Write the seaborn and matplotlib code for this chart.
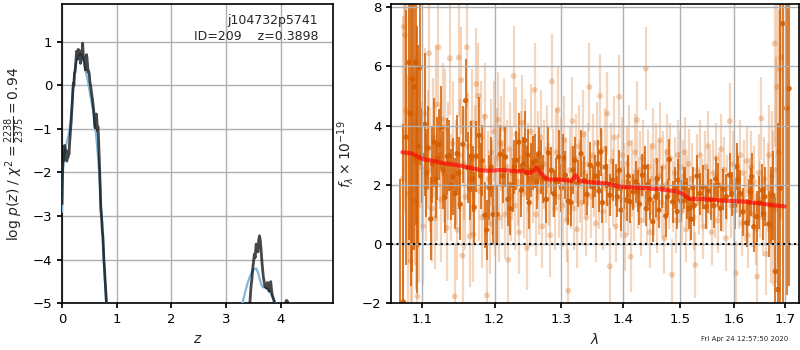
import matplotlib
matplotlib.use("Agg")
import matplotlib.pyplot as plt
from matplotlib.ticker import FixedLocator, FixedFormatter, NullLocator
import numpy as np
import pandas as pd
import seaborn as sns

# ---------------- redshift probability, log p(z) ----------------
pz_z_low = [0.000, 0.008, 0.018, 0.028, 0.038, 0.048, 0.058, 0.068, 0.078, 0.088,
            0.098, 0.108, 0.118, 0.128, 0.138, 0.148, 0.158, 0.168, 0.178, 0.188,
            0.198, 0.208, 0.218, 0.228, 0.238, 0.248, 0.258, 0.268, 0.278, 0.288,
            0.298, 0.308, 0.318, 0.328, 0.338, 0.348, 0.358, 0.368, 0.378, 0.388,
            0.398, 0.408, 0.418, 0.428, 0.438, 0.448, 0.458, 0.468, 0.478, 0.488,
            0.498, 0.508, 0.518, 0.528, 0.538, 0.548, 0.558, 0.568, 0.578, 0.588,
            0.598, 0.608, 0.618, 0.628, 0.638, 0.648, 0.658, 0.668, 0.678, 0.688,
            0.698, 0.708, 0.718, 0.728, 0.738, 0.748, 0.758, 0.768, 0.778, 0.788,
            0.798, 0.808, 0.818, 0.828]
pz_low = [-2.72, -2.10, -1.65, -1.40, -1.72, -1.38, -1.45, -1.62, -1.50, -1.74,
          -1.55, -1.66, -1.52, -1.58, -1.35, -1.18, -0.98, -0.85, -0.62, -0.40,
          -0.12, 0.05, 0.00, 0.28, 0.30, 0.45, 0.62, 0.78, 0.72, 0.60,
          0.82, 0.66, 0.80, 0.70, 0.50, 0.62, 0.78, 0.70, 0.96, 0.72,
          0.58, 0.62, 0.48, 0.35, 0.40, 0.70, 0.62, 0.45, 0.30, 0.32,
          0.27, 0.12, 0.02, -0.05, -0.15, -0.25, -0.32, -0.45, -0.55, -0.70,
          -0.92, -0.98, -0.70, -0.66, -0.80, -1.05, -0.95, -1.20, -1.55, -1.90,
          -2.30, -2.80, -2.95, -3.10, -3.35, -3.45, -3.75, -4.05, -4.20, -4.45,
          -4.65, -4.85, -5.10, -5.60]
pz_z_high = [3.420, 3.440, 3.460, 3.475, 3.490, 3.505, 3.520, 3.535, 3.553, 3.570,
             3.585, 3.600, 3.614, 3.628, 3.642, 3.656, 3.670, 3.685, 3.700, 3.715,
             3.730, 3.745, 3.760, 3.775, 3.790, 3.805, 3.820, 3.835, 3.850, 3.865,
             3.880, 3.900, 3.930]
pz_high = [-5.30, -4.95, -4.60, -4.45, -4.20, -4.05, -3.87, -3.95, -3.64, -3.70,
           -3.82, -3.55, -3.45, -3.55, -3.75, -4.00, -4.20, -4.40, -4.50, -4.62,
           -4.58, -4.65, -4.52, -4.62, -4.72, -4.60, -4.50, -4.70, -4.82, -4.88,
           -4.94, -5.05, -5.30]
pz_z_tail = [4.06, 4.09, 4.11, 4.13, 4.16]
pz_tail = [-5.20, -4.98, -4.93, -4.96, -5.20]

spl_z_low = [0.00, 0.01, 0.02, 0.04, 0.06, 0.08, 0.10, 0.12, 0.14, 0.16,
             0.18, 0.20, 0.22, 0.24, 0.26, 0.28, 0.30, 0.32, 0.34, 0.36,
             0.38, 0.40, 0.42, 0.44, 0.46, 0.48, 0.50, 0.52, 0.54, 0.56,
             0.58, 0.60, 0.62, 0.64, 0.66, 0.68, 0.70, 0.72, 0.74, 0.76,
             0.78, 0.80, 0.82]
spl_low = [-2.90, -2.30, -1.90, -1.60, -1.45, -1.35, -1.25, -1.15, -1.00, -0.75,
           -0.45, -0.15, 0.12, 0.35, 0.52, 0.62, 0.68, 0.70, 0.72, 0.70,
           0.62, 0.52, 0.40, 0.28, 0.18, 0.05, -0.10, -0.25, -0.38, -0.52,
           -0.68, -0.88, -1.10, -1.35, -1.65, -2.00, -2.40, -2.85, -3.30, -3.80,
           -4.30, -4.80, -5.30]
spl_z_high = [3.28, 3.32, 3.36, 3.40, 3.44, 3.48, 3.52, 3.555, 3.59, 3.62,
              3.65, 3.68, 3.72, 3.76, 3.80, 3.84, 3.88, 3.92]
spl_high = [-5.10, -4.90, -4.70, -4.52, -4.38, -4.27, -4.21, -4.20, -4.30, -4.45,
            -4.57, -4.63, -4.64, -4.66, -4.72, -4.82, -4.92, -5.05]

chi2_num, chi2_dof, chi2_red = 2238, 2375, 0.94
obj_root, obj_id, obj_z = "j104732p5741", 209, 0.3898
stamp = "Fri Apr 24 12:57:50 2020"

# ---------------- G141 spectrum, units of 1e-19 ----------------
dark_wave = [1.0718, 1.0757, 1.0794, 1.0829, 1.0852, 1.0874, 1.0895, 1.0917, 1.0930, 1.0952, 1.0974,
             1.1002, 1.1036, 1.1058, 1.1080, 1.1115, 1.1138, 1.1160, 1.1186, 1.1205, 1.1226, 1.1258, 1.1280,
             1.1306, 1.1338, 1.1365, 1.1390, 1.1413, 1.1450, 1.1473, 1.1495, 1.1517, 1.1553, 1.1589, 1.1620,
             1.1645, 1.1665, 1.1690, 1.1710, 1.1742, 1.1777, 1.1800, 1.1823, 1.1864, 1.1886, 1.1922, 1.1950, 1.1980,
             1.2036, 1.2085, 1.2120, 1.2158, 1.2196, 1.2229, 1.2264, 1.2290, 1.2319, 1.2353, 1.2394, 1.2420,
             1.2442, 1.2470, 1.2491, 1.2506, 1.2535, 1.2567, 1.2600, 1.2625, 1.2653, 1.2695, 1.2725, 1.2771,
             1.2800, 1.2848, 1.2885, 1.2926, 1.2960, 1.3003, 1.3035, 1.3066, 1.3110, 1.3154, 1.3185, 1.3212,
             1.3260, 1.3313, 1.3367, 1.3409, 1.3464, 1.3506,
             1.3545, 1.3585, 1.3605, 1.3630, 1.3660, 1.3710, 1.3740, 1.3780, 1.3830, 1.3880, 1.3905, 1.3940,
             1.3970, 1.4010, 1.4060, 1.4090, 1.4120, 1.4170, 1.4220, 1.4250, 1.4280, 1.4330, 1.4375, 1.4400,
             1.4420, 1.4460, 1.4510, 1.4560, 1.4590, 1.4620, 1.4680, 1.4740, 1.4770, 1.4800, 1.4860, 1.4910,
             1.4940, 1.4960, 1.5010, 1.5060, 1.5085, 1.5110, 1.5150, 1.5200, 1.5225, 1.5250, 1.5300, 1.5350,
             1.5410, 1.5460, 1.5510, 1.5560, 1.5610, 1.5650, 1.5690, 1.5740, 1.5790, 1.5850,
             1.5910, 1.5960, 1.6010, 1.6050, 1.6070, 1.6120, 1.6170, 1.6240, 1.6280, 1.6320,
             1.6340, 1.6380, 1.6440, 1.6490, 1.6550, 1.6570, 1.6600, 1.6680, 1.6720, 1.6760,
             1.6810, 1.6860, 1.6910, 1.6960, 1.7040, 1.7090]
dark_flux = [-3.0, -1.95, 3.61, 6.13, 4.4, 5.57, 5.31, 6.13, 2.85, 3.3, 5.96,
             3.0, 4.04, 2.4, 3.25, 0.85, 2.7, 3.44, 2.19, 2.9, 3.37, 3.93, 2.5,
             1.58, 2.96, 2.98, 2.0, 2.27, 1.71, 3.05, 2.4, 1.35, 3.37, 4.84, 2.58,
             1.9, 2.97, 2.2, 1.24, 2.97, 3.67, 2.3, 2.81, 0.98, 0.48, 1.91, 2.6, 1.0,
             1.01, 3.03, 2.3, 2.94, 1.51, 1.2, 1.99, 2.6, 2.83, 3.44, 1.82, 2.7,
             3.5, 2.4, 3.0, 1.40, 2.5, 2.74, 2.8, 2.1, 3.05, 2.6, 2.2, 1.51,
             3.08, 2.49, 1.7, 2.12, 2.94, 1.9, 2.9, 2.33, 1.45, 1.40, 2.5, 2.83,
             2.05, 3.05, 2.16, 1.68, 2.66, 1.93,
             2.3, 2.7, 1.8, 3.11, 1.40, 2.6, 2.0, 1.65, 2.16, 1.99, 1.6, 2.49,
             1.15, 1.9, 1.49, 2.3, 1.43, 1.76, 2.1, 1.8, 1.35, 2.33, 2.6, 1.2,
             2.0, 1.51, 0.76, 1.6, 2.2, 1.15, 1.93, 0.95, 1.6, 2.85, 1.43, 1.9,
             1.1, 2.16, 1.45, 1.9, 2.0, 1.54, 1.2, 0.84, 1.9, 1.3, 2.3, 1.7,
             1.93, 1.26, 1.8, 1.5, 1.3, 2.2, 1.99, 1.21, 1.85, 1.6,
             2.33, 1.7, 1.3, 2.61, 2.16, 1.7, 1.09, 0.72, 1.4, 1.76,
             2.28, 0.59, 0.93, 1.4, 1.82, 1.04, 1.6, 0.68, 1.3, 1.65,
             -0.92, -1.53, 1.88, 7.44, 4.58, 5.25]
dark_err = [5.2, 6.0, 4.3, 6.0, 5.8, 6.5, 5.5, 5.5, 4.5, 3.4, 3.3,
            1.6, 2.4, 1.5, 1.4, 1.4, 1.3, 1.5, 1.3, 1.4, 1.2, 1.4, 1.3,
            1.2, 1.3, 1.2, 1.2, 1.3, 1.2, 1.3, 1.2, 1.2, 1.3, 1.4, 1.2,
            1.1, 1.2, 1.1, 1.2, 1.2, 1.3, 1.1, 1.2, 1.1, 1.0, 1.1, 1.0, 1.0,
            1.0, 1.0, 0.9, 1.0, 0.9, 0.9, 0.9, 0.9, 1.0, 1.0, 0.9, 0.9,
            1.0, 0.9, 0.9, 0.9, 0.9, 0.9, 0.9, 0.9, 0.9, 0.9, 0.8, 0.8,
            0.9, 0.8, 0.8, 0.8, 0.9, 0.8, 0.8, 0.8, 0.8, 0.8, 0.8, 0.8,
            0.8, 0.8, 0.8, 0.7, 0.8, 0.7,
            0.7, 0.8, 0.7, 0.8, 0.7, 0.7, 0.7, 0.7, 0.7, 0.7, 0.7, 0.7,
            0.7, 0.7, 0.7, 0.7, 0.7, 0.6, 0.7, 0.7, 0.7, 0.7, 0.7, 0.6,
            0.7, 0.7, 0.7, 0.7, 0.7, 0.6, 0.7, 0.7, 0.6, 0.7, 0.7, 0.7,
            0.6, 0.7, 0.7, 0.7, 0.6, 0.7, 0.7, 0.7, 0.7, 0.7, 0.7, 0.7,
            0.75, 0.75, 0.75, 0.7, 0.75, 0.75, 0.75, 0.75, 0.7, 0.75,
            0.75, 0.75, 0.8, 0.8, 0.8, 0.8, 0.8, 0.8, 0.8, 0.8,
            0.8, 0.85, 0.85, 0.9, 0.9, 0.9, 1.0, 1.1, 1.3, 1.5,
            2.5, 5.6, 6.5, 9.5, 6.3, 6.65]

light_wave = [1.0745, 1.0762, 1.0776, 1.0795, 1.0812, 1.0830, 1.0850, 1.0868, 1.0885, 1.0905, 1.0920, 1.0940, 1.0958, 1.0978, 1.0995,
              1.1015, 1.1035, 1.1055, 1.1075, 1.1093, 1.1112, 1.1130, 1.1150, 1.1168, 1.1185,
              1.1203, 1.1218, 1.1238, 1.1255, 1.1275, 1.1292, 1.1310, 1.1330, 1.1350, 1.1373,
              1.1390, 1.1410, 1.1440, 1.1460, 1.1478, 1.1495, 1.1512, 1.1530, 1.1548, 1.1565,
              1.1585, 1.1606, 1.1625, 1.1645, 1.1662, 1.1680, 1.1700, 1.1720, 1.1740, 1.1768,
              1.1785, 1.1805, 1.1825, 1.1845, 1.1865, 1.1890, 1.1910, 1.1930, 1.1950, 1.1970, 1.1990,
              1.2010, 1.2030, 1.2050, 1.2070, 1.2090, 1.2110, 1.2130, 1.2150, 1.2175, 1.2200,
              1.2220, 1.2240, 1.2260, 1.2277, 1.2300, 1.2320, 1.2340, 1.2360, 1.2385, 1.2405,
              1.2425, 1.2450, 1.2474, 1.2495, 1.2515, 1.2540, 1.2565, 1.2591, 1.2615, 1.2640,
              1.2660, 1.2685, 1.2710, 1.2735, 1.2760, 1.2780, 1.2805, 1.2830, 1.2856, 1.2880,
              1.2905, 1.2925, 1.2945, 1.2970, 1.2995, 1.3020, 1.3045, 1.3070, 1.3090, 1.3110,
              1.3135, 1.3155, 1.3175, 1.3200, 1.3225, 1.3250, 1.3275, 1.3300, 1.3325, 1.3350,
              1.3375, 1.3400, 1.3425, 1.3448, 1.3475,
              1.3500, 1.3525, 1.3550, 1.3575, 1.3600, 1.3620, 1.3645, 1.3670, 1.3695, 1.3718,
              1.3738, 1.3760, 1.3780, 1.3805, 1.3830, 1.3855, 1.3880, 1.3910, 1.3940, 1.3965,
              1.3990, 1.4015, 1.4040, 1.4065, 1.4090, 1.4110, 1.4130, 1.4155, 1.4180, 1.4205,
              1.4237, 1.4260, 1.4285, 1.4310, 1.4335, 1.4360, 1.4388, 1.4410, 1.4435, 1.4460,
              1.4485, 1.4510, 1.4540, 1.4565, 1.4590, 1.4615, 1.4640, 1.4665, 1.4690, 1.4715,
              1.4740, 1.4765, 1.4790, 1.4820, 1.4847, 1.4875, 1.4900, 1.4925, 1.4950, 1.4975,
              1.5000, 1.5025, 1.5050, 1.5075, 1.5100, 1.5125, 1.5150, 1.5180,
              1.5210, 1.5240, 1.5271, 1.5300, 1.5330, 1.5360, 1.5390, 1.5420, 1.5450, 1.5480,
              1.5510, 1.5540, 1.5570, 1.5600, 1.5630, 1.5660, 1.5690, 1.5720, 1.5750, 1.5780,
              1.5810, 1.5840, 1.5870, 1.5916, 1.5945, 1.5975, 1.6005, 1.6031, 1.6060, 1.6090,
              1.6120, 1.6150, 1.6180, 1.6210, 1.6240, 1.6270, 1.6300, 1.6330, 1.6360, 1.6390,
              1.6420, 1.6446, 1.6475, 1.6505, 1.6531, 1.6560, 1.6590, 1.6626, 1.6655, 1.6685,
              1.6715, 1.6745, 1.6770, 1.6795, 1.6820, 1.6850, 1.6880, 1.6905, 1.6930]
light_flux = [2.2, 7.33, 7.05, 4.5, 1.7, 4.4, -0.58, 1.5, 4.0, 2.8, 1.45, -1.76, 1.3, 3.9, 2.6,
              0.61, 4.4, 1.9, 3.2, 6.44, 2.5, 1.2, 3.6, 0.87, 4.7,
              2.0, 6.64, 3.0, 1.5, 4.2, 2.4, 3.9, 0.55, 2.8, 6.27,
              1.9, 3.4, -1.76, 2.4, 0.48, 6.29, 3.0, 5.53, -0.39, 2.7,
              1.6, 6.64, 3.3, 0.26, 2.2, 4.1, 0.33, 2.9, 5.4, 5.0,
              1.8, 3.6, 0.9, 2.6, 4.3, -1.73, 2.2, 0.7, 3.1, 1.9, 3.8,
              1.2, 2.9, 4.2, 0.9, 3.4, 2.0, 3.9, 1.0, 2.6, -0.53,
              3.2, 1.6, 2.4, 5.67, 1.3, 3.7, 2.1, 0.4, 2.9, 4.1,
              1.7, 3.3, -0.13, 2.6, 1.4, 3.8, 2.2, 5.2, 1.0, 3.0,
              1.8, 3.6, 0.6, 2.7, 1.5, 3.2, 2.0, 0.3, 5.49, 2.4,
              1.2, 3.1, 4.52, 1.6, 2.8, 1.3, 3.5, 2.2, 0.8, -1.57,
              2.5, 1.9, 4.15, 1.2, 2.9, 0.5, 3.3, 2.1, 1.4, 3.7,
              2.4, 0.9, 2.7, 5.3, 1.6,
              3.0, 2.2, 0.7, 3.4, 1.8, 5.0, 2.6, 1.1, 3.2, 2.0,
              4.41, 1.4, -0.75, 2.8, 1.9, 3.6, 0.6, 2.4, 4.97, 1.5,
              3.0, 2.1, 0.3, 2.7, 1.6, 3.4, -0.42, 2.2, 1.3, 3.1,
              4.19, 1.7, 2.5, 0.8, 2.9, 1.9, 5.93, 1.2, 2.6, 0.4,
              2.2, 3.3, 1.5, 2.8, 0.9, 2.3, 3.5, 1.4, 2.6, 0.2,
              2.0, 3.1, 1.7, 2.9, -1.03, 1.6, 2.4, 0.8, 3.0, 1.9,
              2.6, 1.1, 2.3, 3.1, 0.5, 1.8, 2.7, 1.2,
              2.2, 0.9, -0.7, 2.5, 1.4, 3.0, 1.8, 0.6, 2.6, 1.6,
              3.3, 2.1, 0.4, 2.4, 1.3, 2.9, 0.8, 2.0, 3.2, 1.5,
              2.5, 0.2, 1.9, 4.15, 1.3, 2.7, 1.1, -0.98, 2.2, 1.6,
              3.0, 0.7, 2.4, 1.2, 2.8, 0.3, 1.8, 2.6, 1.0, 2.1,
              0.5, -1.09, 2.4, 1.5, 4.24, 0.9, 2.2, -0.33, 1.9, 3.0,
              0.6, 2.3, 1.2, 6.77, 2.5, 5.3, 3.1, 5.9, 6.3]
light_err = [5.5, 5.0, 6.0, 4.5, 4.0, 5.0, 3.5, 3.8, 4.2, 3.5, 3.0, 2.8, 2.6, 2.5, 2.2,
             2.0, 2.2, 1.8, 2.0, 1.9, 2.1, 1.8, 2.0, 1.7, 2.0,
             1.9, 2.0, 1.8, 2.1, 1.9, 1.7, 2.0, 1.8, 2.0, 1.9,
             1.8, 2.1, 1.8, 1.8, 1.7, 2.0, 1.9, 1.8, 1.7, 1.9,
             1.8, 2.0, 1.8, 1.7, 1.9, 1.8, 1.6, 1.8, 1.9, 1.8,
             1.7, 1.9, 1.7, 1.8, 1.8, 1.7, 1.6, 1.7, 1.8, 1.6, 1.7,
             1.6, 1.7, 1.6, 1.5, 1.6, 1.5, 1.7, 1.5, 1.6, 1.5,
             1.6, 1.5, 1.6, 1.7, 1.5, 1.6, 1.5, 1.4, 1.6, 1.6,
             1.5, 1.6, 1.4, 1.5, 1.5, 1.6, 1.5, 1.6, 1.4, 1.5,
             1.5, 1.6, 1.4, 1.5, 1.5, 1.5, 1.4, 1.4, 1.6, 1.5,
             1.4, 1.5, 1.5, 1.4, 1.5, 1.4, 1.5, 1.4, 1.4, 1.4,
             1.5, 1.4, 1.5, 1.4, 1.5, 1.3, 1.4, 1.4, 1.4, 1.5,
             1.4, 1.3, 1.4, 1.5, 1.4,
             1.4, 1.3, 1.3, 1.4, 1.3, 1.4, 1.3, 1.3, 1.4, 1.3,
             1.4, 1.3, 1.3, 1.3, 1.3, 1.4, 1.2, 1.3, 1.4, 1.3,
             1.3, 1.3, 1.2, 1.3, 1.3, 1.3, 1.2, 1.3, 1.2, 1.3,
             1.3, 1.2, 1.3, 1.2, 1.3, 1.2, 1.4, 1.2, 1.3, 1.2,
             1.2, 1.3, 1.2, 1.3, 1.2, 1.2, 1.3, 1.2, 1.2, 1.2,
             1.2, 1.3, 1.2, 1.2, 1.2, 1.2, 1.2, 1.1, 1.2, 1.2,
             1.2, 1.1, 1.2, 1.2, 1.1, 1.2, 1.2, 1.1,
             1.2, 1.1, 1.1, 1.2, 1.1, 1.2, 1.1, 1.1, 1.2, 1.1,
             1.2, 1.1, 1.1, 1.1, 1.1, 1.2, 1.1, 1.1, 1.2, 1.1,
             1.1, 1.1, 1.1, 1.3, 1.1, 1.1, 1.1, 1.1, 1.1, 1.1,
             1.2, 1.1, 1.1, 1.1, 1.2, 1.1, 1.1, 1.2, 1.1, 1.2,
             1.2, 1.2, 1.3, 1.3, 1.4, 1.3, 1.4, 1.4, 1.5, 1.7,
             1.9, 2.2, 2.6, 3.5, 3.8, 4.2, 4.8, 5.0, 5.5]

model_wave = [1.0743, 1.0860, 1.0947, 1.1013, 1.1146, 1.1280, 1.1463, 1.1648, 1.1835, 1.1978,
              1.2074, 1.2220, 1.2368, 1.2417, 1.2467, 1.2517, 1.2592, 1.2618, 1.2694, 1.2796,
              1.2924, 1.3028, 1.3159, 1.3228, 1.3291, 1.3452, 1.3724, 1.3945, 1.4226, 1.4572,
              1.4866, 1.5016, 1.5167, 1.5411, 1.5785, 1.6170, 1.6562, 1.7000]
model_flux = [3.10, 3.06, 2.95, 2.87, 2.81, 2.73, 2.67, 2.58, 2.48, 2.48,
              2.50, 2.48, 2.45, 2.49, 2.42, 2.39, 2.50, 2.59, 2.37, 2.17,
              2.19, 2.17, 2.13, 2.33, 2.13, 2.09, 2.05, 1.94, 1.91, 1.86,
              1.80, 1.72, 1.53, 1.52, 1.47, 1.44, 1.36, 1.27]

wave_ticks = [1.1, 1.2, 1.3, 1.4, 1.5, 1.6, 1.7]

assert len(dark_wave) == len(dark_flux) == len(dark_err)
assert len(light_wave) == len(light_flux) == len(light_err)

# ---------------- style ----------------
sns.set_theme(style="ticks")
plt.rcParams.update({
    "font.family": ["DejaVu Sans"],
    "font.size": 9,
    "axes.labelsize": 10,
    "xtick.labelsize": 9.5,
    "ytick.labelsize": 9.5,
    "axes.linewidth": 1.2,
    "axes.edgecolor": "black",
    "axes.axisbelow": "line",
    "xtick.color": "black",
    "ytick.color": "black",
    "xtick.major.size": 3.5,
    "ytick.major.size": 3.5,
    "grid.color": "#b0b0b0",
    "grid.linewidth": 1.0,
    "mathtext.fontset": "dejavusans",
})

G141 = (0.8353, 0.3686, 0.0)

fig = plt.figure(figsize=(8.0, 3.5), dpi=100)
ax_pz = fig.add_axes([0.0775, 0.133, 0.3388, 0.8556])
ax_sp = fig.add_axes([0.4888, 0.133, 0.5100, 0.8556])

# ---- left: p(z) ----
spl_color = (0.50, 0.72, 0.87)
for zz, vv in ((spl_z_low, spl_low), (spl_z_high, spl_high)):
    sns.lineplot(data=pd.DataFrame({"z": zz, "p": vv}), x="z", y="p", ax=ax_pz,
                 color=spl_color, lw=1.6, sort=False, estimator=None, zorder=3)
for zz, vv in ((pz_z_low, pz_low), (pz_z_high, pz_high), (pz_z_tail, pz_tail)):
    sns.lineplot(data=pd.DataFrame({"z": zz, "p": vv}), x="z", y="p", ax=ax_pz,
                 color="black", alpha=0.72, lw=2.0, sort=False, estimator=None, zorder=4)

ax_pz.set_xlim(0, 4.96)
ax_pz.set_ylim(-5, 1.86)
ax_pz.set_xticks([0, 1, 2, 3, 4])
ax_pz.set_yticks([-5, -4, -3, -2, -1, 0, 1])
ax_pz.grid(True)
ax_pz.set_xlabel(r"$z$")
ax_pz.set_ylabel(r"log $p(z)$" + " / " +
                 r"$\chi^2=\frac{%d}{%d}=%.2f$" % (chi2_num, chi2_dof, chi2_red))
ax_pz.text(0.945, 0.965, f"{obj_root}\nID={obj_id}    z={obj_z:.4f}",
           transform=ax_pz.transAxes, ha="right", va="top", fontsize=9,
           linespacing=1.25)

# ---- right: spectrum ----
ax_sp.set_xscale("log")
ax_sp.errorbar(light_wave, light_flux, yerr=light_err, fmt="none",
               ecolor=G141, elinewidth=1.6, alpha=0.25, zorder=1)
sns.scatterplot(data=pd.DataFrame({"w": light_wave, "f": light_flux}), x="w", y="f",
                ax=ax_sp, color=G141, s=18, alpha=0.28, edgecolor="none",
                zorder=1, legend=False)
ax_sp.errorbar(dark_wave, dark_flux, yerr=dark_err, fmt="none",
               ecolor=G141, elinewidth=1.45, alpha=0.8, zorder=1)
sns.scatterplot(data=pd.DataFrame({"w": dark_wave, "f": dark_flux}), x="w", y="f",
                ax=ax_sp, color=G141, s=15, alpha=0.9, edgecolor="none",
                zorder=1, legend=False)
sns.lineplot(data=pd.DataFrame({"w": model_wave, "f": model_flux}), x="w", y="f",
             ax=ax_sp, color="red", alpha=0.65, lw=3.0, sort=False,
             estimator=None, zorder=3)
ax_sp.axhline(0, color="black", ls=":", lw=1.5, zorder=4)

ax_sp.set_xlim(1.0598, 1.7295)
ax_sp.set_ylim(-2, 8.1)
ax_sp.xaxis.set_major_locator(FixedLocator(wave_ticks))
ax_sp.xaxis.set_major_formatter(FixedFormatter([f"{t:.1f}" for t in wave_ticks]))
ax_sp.xaxis.set_minor_locator(NullLocator())
ax_sp.set_yticks([-2, 0, 2, 4, 6, 8])
ax_sp.grid(True)
ax_sp.set_xlabel(r"$\lambda$")
ax_sp.set_ylabel(r"$f_\lambda\times10^{-19}$")

fig.text(0.985, 0.031, stamp, ha="right", va="center", fontsize=5)

fig.savefig("out.png", dpi=100)
